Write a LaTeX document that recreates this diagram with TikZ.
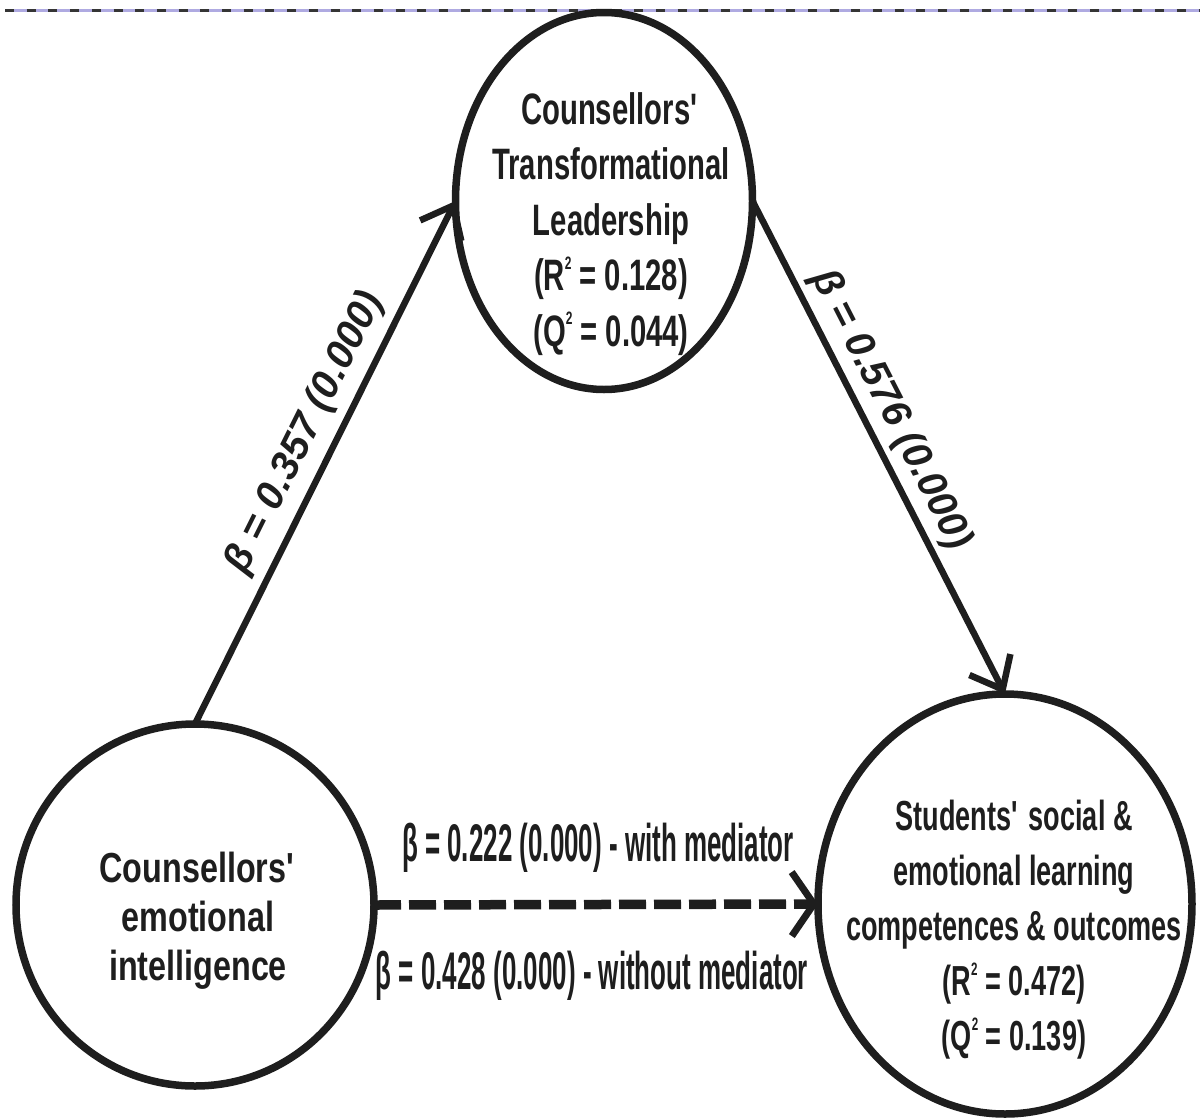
\documentclass[tikz,border=0pt]{standalone}
\usepackage{fontspec}
\setmainfont{Liberation Sans}
\newfontfamily\topfont{Liberation Sans}[FakeStretch=0.665]
\newfontfamily\leftfont{Liberation Sans}[FakeStretch=0.77]
\newfontfamily\rightfont{Liberation Sans}[FakeStretch=0.645]
\newfontfamily\pathfont{Liberation Sans}[FakeStretch=0.49]
\usetikzlibrary{shapes.geometric,arrows.meta}
\definecolor{inkblack}{RGB}{30,30,30}
\definecolor{rulelav}{RGB}{175,170,225}
% small superscript two used in the fit statistics
\newcommand{\tinytwo}{\raisebox{0.48em}{\fontsize{18pt}{18pt}\selectfont 2}}
\begin{document}
\begin{tikzpicture}[x=1pt,y=-1pt,
  construct/.style={draw=inkblack, ellipse, line width=7.5pt, inner sep=0pt, outer sep=0pt},
  construct text/.style={align=center, inner sep=0pt, anchor=north, text=inkblack},
  effect/.style={draw=inkblack, line width=6.5pt, -{Straight Barb[length=28pt,width=46pt]}},
  direct/.style={draw=inkblack, line width=9.5pt, dash pattern=on 27pt off 8pt,
    -{Straight Barb[length=22pt,width=64pt,line width=7pt]}},
  coef/.style={font=\bfseries\itshape\fontsize{40pt}{48pt}\selectfont, text=inkblack, inner sep=0pt},
  direct label/.style={font=\pathfont\bfseries\fontsize{53pt}{60pt}\selectfont, text=inkblack, inner sep=0pt, anchor=base}
]
\useasboundingbox (0,0) rectangle (1200,1117);

% rule along the top edge
\coordinate (rule-l) at (5,10);
\coordinate (rule-r) at (1200,10);
\draw[line width=3pt, rulelav] (rule-l) -- (rule-r);
\draw[line width=3pt, inkblack!90, dash pattern=on 9pt off 12.7pt] (rule-l) -- (rule-r);

% constructs
\node[construct, minimum width=297pt, minimum height=377pt] (tl) at (604,201) {};
\node[construct, minimum width=358pt, minimum height=362pt] (ei) at (195,905) {};
\node[construct, minimum width=374pt, minimum height=420pt] (sel) at (1005,904) {};

\node[construct text, font=\topfont\bfseries\fontsize{44pt}{55.5pt}\selectfont] (tl-text) at (611,92)
  {Counsellors\textquotesingle\\Transformational\\Leadership\\(R\tinytwo{} = 0.128)\\(Q\tinytwo{} = 0.044)};
\node[construct text, font=\leftfont\bfseries\fontsize{42pt}{49pt}\selectfont] (ei-text) at (198,852)
  {Counsellors\textquotesingle\\emotional\\intelligence};
\node[construct text, font=\rightfont\bfseries\fontsize{42pt}{55pt}\selectfont] (sel-text) at (1014,800)
  {Students\textquotesingle{} social \&\\emotional learning\\competences \& outcomes\\(R\tinytwo{} = 0.472)\\(Q\tinytwo{} = 0.139)};

% paths
\draw[effect] (ei.north) -- node[coef, sloped, above=9pt, pos=0.53] (a-coef) {β = 0.357 (0.000)} (tl.west);
\draw[effect] (tl.east) -- node[coef, sloped, above=6pt, pos=0.45] (b-coef) {β = 0.576 (0.000)} (sel.north);
\draw[direct] (ei.east) --
  node[direct label, pos=0.5, yshift=43pt, xshift=2pt] (c-with) {β = 0.222 (0.000) - with mediator}
  node[direct label, pos=0.5, yshift=-85pt, xshift=-4pt] (c-without) {β = 0.428 (0.000) - without mediator}
  (sel.west);
\end{tikzpicture}
\end{document}
